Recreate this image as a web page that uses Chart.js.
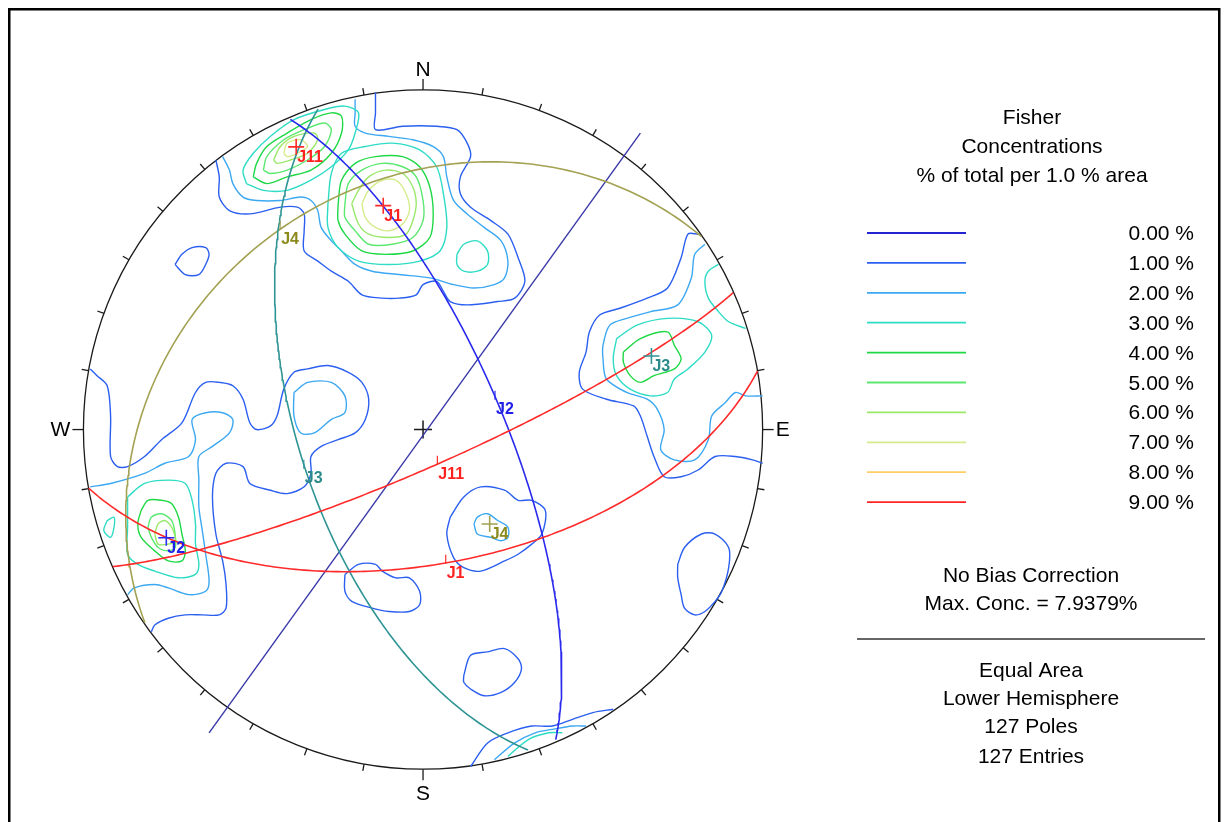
<!DOCTYPE html>
<html>
<head>
<meta charset="utf-8">
<title>Fisher Concentrations - Equal Area Lower Hemisphere</title>
<script src="https://cdn.jsdelivr.net/npm/chart.js@4.4.1/dist/chart.umd.min.js"></script>
<style>
  html, body { margin: 0; padding: 0; background: #fff; }
  canvas { display: block; }
</style>
</head>
<body>
<canvas id="net" width="1228" height="822"></canvas>
<script>
// ---------------------------------------------------------------
// Data
// ---------------------------------------------------------------
// Net coordinates: centre (0,0), primitive circle radius 100.

// Joint sets (planes): dip and dip direction in degrees
const PLANE_IDS     = ['J1', 'J11', 'J2', 'J3', 'J4'];
const PLANE_DIP     = [57, 81, 71, 60, 28];
const PLANE_DIPDIR  = [170, 156, 67, 252, 325];

// Straight trace through the centre, end points in net units
const TRACE_LINE = [[-63, -90], [64, 88]];

// Contour levels (% of total per 1 % area)
const CONTOUR_LEVELS = [0, 1, 2, 3, 4, 5, 6, 7, 8, 9];

// Contour lines per level: open lines end on the primitive, loops are closed.
// Each line is a flat list x1,y1,x2,y2,...
const OPEN_1 = [
  [-61,80, -60,75, -60,69, -57,65, -51,64, -42,66, -37,66, -35,64, -35,59, -35,53, -31,50, -27,47, -22,44, -18,40, -12,39, -7,39, -2,40, 0,43, 4,44, 6,41, 8,38, 13,37, 22,38, 27,39, 30,44, 28,51, 25,58, 20,62, 14,66, 11,70, 11,75, 14,81, 13,85, 10,89, 4,90, -6,90, -14,89, -14,94, -14,100],
  [-98,18, -96,16, -93,13, -92,4, -92,-8, -90,-11, -87,-11, -82,-8, -77,-3, -71,2, -67,11, -64,14, -60,14, -56,13, -53,9, -51,2, -49,0, -45,1, -43,4, -41,12, -38,17, -34,18, -28,19, -22,17, -18,14, -16,9, -17,3, -20,-1, -25,-3, -30,-5, -33,-8, -33,-13, -35,-17, -40,-19, -45,-18, -51,-16, -53,-11, -58,-10, -61,-13, -62,-20, -61,-31, -59,-39, -58,-46, -58,-53, -60,-55, -65,-55, -70,-55, -75,-56, -79,-58, -80,-60],
  [81,58, 78,58, 76,51, 72,42, 66,39, 58,36, 52,34, 49,29, 48,23, 46,17, 47,12, 54,9, 62,7, 64,4, 66,-2, 68,-8, 71,-14, 76,-14, 81,-12, 86,-8, 92,-8, 97,-9, 100,-10],
  [14,-100, 19,-93, 25,-90, 32,-88, 38,-88, 44,-86, 50,-84, 56,-83]
];
const LOOP_1 = [
  [-73,49, -71,52, -68,54, -64,54, -63,52, -64,49, -66,46, -70,46],
  [8,-26, 12,-20, 17,-17, 24,-18, 28,-21, 32,-21, 36,-24, 35,-31, 32,-34, 28,-37, 24,-39, 17,-42, 12,-41, 9,-38, 7,-31],
  [-23,-43, -19,-40, -14,-40, -12,-42, -8,-44, -4,-44, -1,-48, -1,-52, -4,-54, -10,-54, -15,-53, -21,-51, -23,-48],
  [12,-73, 14,-67, 19,-66, 24,-65, 28,-68, 29,-71, 27,-75, 23,-78, 18,-79, 14,-77, 12,-75],
  [75,-40, 77,-35, 82,-31, 86,-31, 90,-35, 90,-41, 88,-48, 86,-51, 83,-54, 80,-55, 77,-53, 76,-49, 75,-44]
];

const OPEN_2 = [
  [-59,81, -57,77, -56,73, -53,69, -49,68, -42,68, -36,69, -33,68, -31,65, -30,60, -27,56, -24,53, -20,49, -15,47, -7,46, 2,45, 9,43, 15,42, 21,43, 24,45, 25,50, 23,56, 18,60, 13,64, 9,68, 7,75, 6,81, 3,84, -3,86, -10,87, -17,88, -20,90, -20,94, -20,98],
  [-98,-17, -92,-16, -82,-13, -76,-10, -69,-8, -67,-3, -68,3, -64,5, -59,5, -56,3, -57,-1, -62,-5, -66,-8, -66,-15, -66,-23, -65,-30, -64,-37, -63,-45, -64,-48, -69,-49, -75,-47, -79,-46, -85,-47, -87,-49],
  [83,55, 80,52, 79,45, 75,37, 67,35, 60,33, 55,31, 53,25, 53,21, 54,15, 60,11, 66,9, 69,6, 71,0, 70,-6, 74,-9, 80,-9, 84,-3, 85,4, 89,8, 92,11, 95,10, 100,10],
  [21,-98, 27,-93, 33,-90, 38,-89, 44,-88, 48,-88]
];
const LOOP_2 = [
  [-38,11, -34,14, -27,14, -23,10, -23,5, -27,3, -32,-1, -36,-1, -38,4],
  [15,-28, 16,-26, 19,-25, 22,-27, 25,-29, 25,-32, 23,-33, 20,-32, 16,-31]
];

const OPEN_3 = [
  [87,49, 84,47, 83,44, 84,39, 87,35, 90,32, 95,30],
  [25,-97, 31,-92, 37,-90, 41,-90]
];
const LOOP_3 = [
  [-52,73, -53,77, -50,82, -45,87, -38,92, -29,95, -23,96, -19,94, -20,88, -22,83, -27,78, -33,74, -40,71, -47,71],
  [-28,67, -27,76, -24,82, -17,84, -9,85, -1,83, 4,78, 6,70, 7,60, 5,53, -1,50, -10,49, -19,50, -25,54, -28,60],
  [10,52, 12,55, 16,56, 19,53, 19,49, 16,47, 12,47, 10,49],
  [-87,-20, -82,-16, -75,-15, -70,-16, -68,-21, -67,-28, -67,-34, -66,-40, -67,-43, -72,-44, -79,-42, -84,-40, -87,-37, -87,-29],
  [-93,-27, -91,-26, -91,-29, -92,-32, -94,-30],
  [57,27, 63,31, 72,33, 81,32, 85,28, 83,23, 78,18, 74,15, 72,11, 67,10, 61,12, 57,16, 56,21]
];

const OPEN_4 = [];
const LOOP_4 = [
  [-50,75, -49,79, -46,84, -40,88, -33,92, -27,94, -24,93, -24,88, -27,82, -33,77, -40,75, -46,73],
  [-25,67, -24,74, -20,79, -14,81, -6,81, -1,78, 2,72, 3,64, 2,57, -3,53, -11,52, -18,53, -23,58, -25,62],
  [-83,-24, -81,-21, -77,-21, -74,-22, -72,-26, -71,-31, -70,-36, -71,-39, -75,-39, -79,-36, -83,-32, -84,-28],
  [59,23, 64,27, 72,29, 74,25, 76,21, 74,18, 68,16, 64,14, 61,16, 59,20]
];

const OPEN_5 = [];
const LOOP_5 = [
  [-47,77, -46,81, -41,86, -35,89, -29,91, -27,89, -29,84, -34,80, -40,77, -45,76],
  [-23,67, -22,73, -18,77, -12,79, -6,78, -2,75, 0,68, 0,62, -3,57, -9,55, -16,55, -20,59, -23,63],
  [-81,-29, -80,-26, -77,-25, -74,-27, -73,-31, -73,-35, -75,-36, -78,-35, -80,-32]
];

const OPEN_6 = [];
const LOOP_6 = [
  [-44,80, -42,84, -38,87, -32,88, -31,86, -34,82, -39,80, -43,79],
  [-21,67, -19,71, -16,75, -11,77, -6,76, -3,72, -2,67, -3,62, -5,58, -10,57, -16,58, -19,61],
  [-79,-31, -78,-28, -76,-27, -74,-29, -73,-33, -75,-34, -78,-34]
];

const OPEN_7 = [];
const LOOP_7 = [
  [-41,82, -40,85, -36,86, -34,84, -37,82, -40,81],
  [-18,67, -16,71, -12,74, -8,74, -5,70, -4,65, -6,61, -10,59, -14,60, -17,63]
];

const CONTOURS = [
  [1, OPEN_1, LOOP_1], [2, OPEN_2, LOOP_2], [3, OPEN_3, LOOP_3], [4, OPEN_4, LOOP_4],
  [5, OPEN_5, LOOP_5], [6, OPEN_6, LOOP_6], [7, OPEN_7, LOOP_7]
];

// Summary text
const TITLE_LINES = ['Fisher', 'Concentrations', '% of total per 1.0 % area'];
const MAX_CONC = 7.9379;
const POLE_COUNT = 127;
const ENTRY_COUNT = 127;

// ---------------------------------------------------------------
// Styles
// ---------------------------------------------------------------
const LEVEL_COLORS = ['#2424d4', '#2b5ff0', '#3ca8f2', '#2edcc6', '#1fd846', '#5ce870', '#9ae86a', '#d4ec8c', '#ffcc66', '#ff2424'];
const PLANE_COLORS = ['#ff2a2a', '#ff2a2a', '#2a2aee', '#2f9494', '#a3a152'];
const PLANE_TEXT   = ['#ff2020', '#ff2020', '#2020e6', '#2a8a8a', '#8c8a1c'];
const TRACE_COLOR  = '#3838a8';
const FONT = '"Liberation Sans", Arial, Helvetica, sans-serif';

// ---------------------------------------------------------------
// Equal-area (Schmidt) projection helpers
// ---------------------------------------------------------------
const D2R = Math.PI / 180;
const NET_R = 100;

function toNet(trend, plunge) {
  const r = NET_R * Math.SQRT2 * Math.sin((90 - plunge) * D2R / 2);
  return { x: r * Math.sin(trend * D2R), y: r * Math.cos(trend * D2R) };
}

function greatCircle(dipDir, dip) {
  const sA = (dipDir - 90) * D2R, dA = dipDir * D2R, dp = dip * D2R;
  const sv = [Math.sin(sA), Math.cos(sA), 0];
  const dv = [Math.cos(dp) * Math.sin(dA), Math.cos(dp) * Math.cos(dA), Math.sin(dp)];
  const pts = [];
  for (let a = 0; a <= 180; a += 1) {
    const c = Math.cos(a * D2R), s = Math.sin(a * D2R);
    const e = c * sv[0] + s * dv[0];
    const n = c * sv[1] + s * dv[1];
    const d = Math.min(1, Math.max(0, c * sv[2] + s * dv[2]));
    pts.push(toNet(Math.atan2(e, n) / D2R, Math.asin(d) / D2R));
  }
  return pts;
}

const poleOf = i => toNet((PLANE_DIPDIR[i] + 180) % 360, 90 - PLANE_DIP[i]);
const dipPointOf = i => toNet(PLANE_DIPDIR[i], PLANE_DIP[i]);

function flatToPoints(flat, closed) {
  const pts = [];
  for (let k = 0; k < flat.length; k += 2) pts.push({ x: flat[k], y: flat[k + 1] });
  if (closed) pts.push({ x: flat[0], y: flat[1] });
  return pts;
}

// ---------------------------------------------------------------
// Datasets
// ---------------------------------------------------------------
const datasets = [];

// pole markers
PLANE_IDS.forEach((id, i) => {
  datasets.push({
    label: id + ' pole', data: [poleOf(i)],
    pointStyle: 'cross', pointRadius: 8, pointBorderWidth: 1.6,
    pointBorderColor: PLANE_COLORS[i], borderColor: PLANE_COLORS[i], showLine: false
  });
});

// great circles
PLANE_IDS.forEach((id, i) => {
  datasets.push({
    label: id, data: greatCircle(PLANE_DIPDIR[i], PLANE_DIP[i]),
    showLine: true, pointRadius: 0, borderColor: PLANE_COLORS[i], borderWidth: 1.6, tension: 0
  });
});

// trace through the centre
datasets.push({
  label: 'trace', data: TRACE_LINE.map(p => ({ x: p[0], y: p[1] })),
  showLine: true, pointRadius: 0, borderColor: TRACE_COLOR, borderWidth: 1.4
});

// contours (higher levels on top)
CONTOURS.slice().reverse().forEach(([level, open, loops]) => {
  open.forEach(f => datasets.push({
    label: level + ' %', data: flatToPoints(f, false), showLine: true, pointRadius: 0,
    borderColor: LEVEL_COLORS[level], borderWidth: 1.4, tension: 0.3
  }));
  loops.forEach(f => datasets.push({
    label: level + ' %', data: flatToPoints(f, true), showLine: true, pointRadius: 0,
    borderColor: LEVEL_COLORS[level], borderWidth: 1.4, tension: 0.3
  }));
});

// ---------------------------------------------------------------
// Net frame, labels and key
// ---------------------------------------------------------------
const netPlugin = {
  id: 'netFrame',
  beforeDraw(chart) {
    const ctx = chart.ctx;
    ctx.save();
    ctx.fillStyle = '#fff';
    ctx.fillRect(0, 0, chart.width, chart.height);
    ctx.strokeStyle = '#000';
    ctx.lineWidth = 2.5;
    ctx.strokeRect(9.25, 9.25, 1210, 840);
    ctx.restore();
  },
  beforeDatasetsDraw(chart) {
    const { ctx, scales: { x, y } } = chart;
    const cx = x.getPixelForValue(0), cy = y.getPixelForValue(0);
    const r = x.getPixelForValue(NET_R) - cx;
    ctx.save();
    ctx.strokeStyle = '#1a1a1a';
    ctx.lineWidth = 1.3;
    ctx.beginPath();
    ctx.arc(cx, cy, r, 0, Math.PI * 2);
    ctx.stroke();
    for (let a = 0; a < 360; a += 10) {
      const len = a % 90 === 0 ? 11 : 7;
      const t = a * D2R;
      ctx.beginPath();
      ctx.moveTo(cx + r * Math.sin(t), cy - r * Math.cos(t));
      ctx.lineTo(cx + (r + len) * Math.sin(t), cy - (r + len) * Math.cos(t));
      ctx.stroke();
    }
    // centre cross
    ctx.lineWidth = 1.5;
    ctx.beginPath();
    ctx.moveTo(cx - 9, cy); ctx.lineTo(cx + 9, cy);
    ctx.moveTo(cx, cy - 9); ctx.lineTo(cx, cy + 9);
    ctx.stroke();
    // compass letters
    ctx.fillStyle = '#000';
    ctx.font = '21px ' + FONT;
    ctx.textAlign = 'center';
    ctx.textBaseline = 'middle';
    ctx.fillText('N', cx, cy - r - 20);
    ctx.fillText('S', cx, cy + r + 25);
    ctx.fillText('W', cx - r - 23, cy + 1);
    ctx.fillText('E', cx + r + 20, cy + 1);
    ctx.restore();
  },
  afterDatasetsDraw(chart) {
    const { ctx, scales: { x, y } } = chart;
    ctx.save();
    ctx.font = 'bold 16px ' + FONT;
    ctx.textAlign = 'left';
    ctx.textBaseline = 'top';
    PLANE_IDS.forEach((id, i) => {
      // pole label
      const p = poleOf(i);
      const px = x.getPixelForValue(p.x), py = y.getPixelForValue(p.y);
      ctx.fillStyle = PLANE_TEXT[i];
      ctx.fillText(id, px + 1, py + 3);
      // plane label at the dip point
      const d = dipPointOf(i);
      const dx = x.getPixelForValue(d.x), dy = y.getPixelForValue(d.y);
      ctx.strokeStyle = PLANE_COLORS[i];
      ctx.lineWidth = 1.2;
      ctx.beginPath();
      ctx.moveTo(dx - 1, dy - 8); ctx.lineTo(dx - 1, dy + 1);
      ctx.stroke();
      ctx.fillText(id, dx, dy + 3);
    });

    // key
    const keyX = 1032;
    ctx.fillStyle = '#000';
    ctx.font = '21px ' + FONT;
    ctx.textAlign = 'center';
    ctx.textBaseline = 'alphabetic';
    const titleBase = [124, 153, 182];
    TITLE_LINES.forEach((t, k) => ctx.fillText(t, keyX, titleBase[k]));

    CONTOUR_LEVELS.forEach((lv, k) => {
      const ly = 233 + k * 29.9;
      ctx.strokeStyle = LEVEL_COLORS[k];
      ctx.lineWidth = 1.8;
      ctx.beginPath();
      ctx.moveTo(867, ly); ctx.lineTo(966, ly);
      ctx.stroke();
      ctx.textAlign = 'right';
      ctx.fillText(lv.toFixed(2) + ' %', 1194, 240 + k * 29.9);
    });

    ctx.textAlign = 'center';
    ctx.fillText('No Bias Correction', 1031, 582);
    ctx.fillText('Max. Conc. = ' + MAX_CONC.toFixed(4) + '%', 1031, 610);
    ctx.strokeStyle = '#333';
    ctx.lineWidth = 1.3;
    ctx.beginPath();
    ctx.moveTo(857, 639); ctx.lineTo(1205, 639);
    ctx.stroke();
    ctx.fillText('Equal Area', 1031, 677);
    ctx.fillText('Lower Hemisphere', 1031, 705);
    ctx.fillText(POLE_COUNT + ' Poles', 1031, 733);
    ctx.fillText(ENTRY_COUNT + ' Entries', 1031, 763);
    ctx.restore();
  }
};

// ---------------------------------------------------------------
// Chart: the plotting area fills the canvas; the net sits at
// pixel (420, 430) with a 345 px primitive radius.
// ---------------------------------------------------------------
const W = 1228, H = 822, CX = 420, CY = 430, RPX = 345;
const unit = RPX / NET_R;

new Chart(document.getElementById('net'), {
  type: 'scatter',
  data: { datasets },
  options: {
    responsive: false,
    animation: false,
    events: [],
    layout: { padding: 0 },
    plugins: { legend: { display: false }, tooltip: { enabled: false } },
    scales: {
      x: { type: 'linear', display: false, min: -CX / unit, max: (W - CX) / unit },
      y: { type: 'linear', display: false, min: -(H - CY) / unit, max: CY / unit }
    }
  },
  plugins: [netPlugin]
});
</script>
</body>
</html>
